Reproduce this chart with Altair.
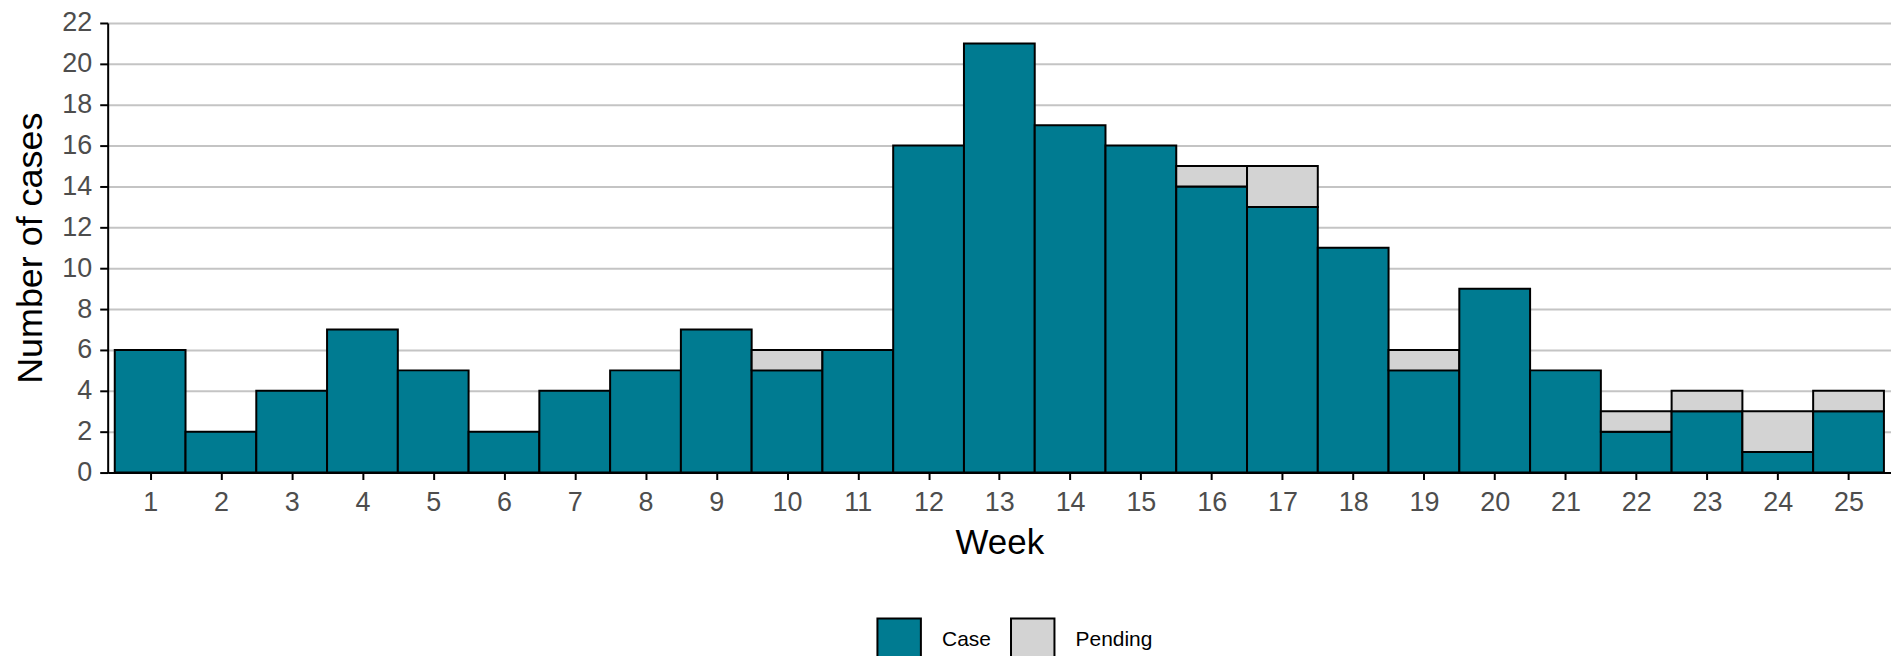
import altair as alt
import pandas as pd

weeks = list(range(1, 26))
case_counts = [6, 2, 4, 7, 5, 2, 4, 5, 7, 5, 6, 16, 21, 17, 16, 14, 13, 11, 5, 9, 5, 2, 3, 1, 3]
pending_counts = [0, 0, 0, 0, 0, 0, 0, 0, 0, 1, 0, 0, 0, 0, 0, 1, 2, 0, 1, 0, 0, 1, 1, 2, 1]
statuses = ["Case", "Pending"]
colors = ["#007B91", "#D3D3D3"]
y_ticks = list(range(0, 23, 2))

rows = []
for w, c, p in zip(weeks, case_counts, pending_counts):
    rows.append({"week": w, "status": "Case", "y0": 0, "y1": c})
    if p > 0:
        rows.append({"week": w, "status": "Pending", "y0": c, "y1": c + p})
df = pd.DataFrame(rows)

FONT = "Liberation Sans"

bars = (
    alt.Chart(df)
    .transform_calculate(xa="datum.week - 0.5", xb="datum.week + 0.5")
    .mark_bar(stroke="black", strokeWidth=2, opacity=1)
    .encode(
        x=alt.X(
            "xa:Q",
            scale=alt.Scale(domain=[0.4, 25.6], nice=False, zero=False),
            axis=alt.Axis(
                values=weeks,
                title="Week",
                grid=False,
                domainColor="black",
                domainWidth=2,
                tickColor="black",
                tickWidth=2,
                tickSize=7,
                labelFontSize=27,
                labelColor="#4D4D4D",
                labelPadding=10,
                labelFont=FONT,
                titleFont=FONT,
                titleFontSize=35,
                titleFontWeight="normal",
                titleColor="black",
                titlePadding=10,
            ),
        ),
        x2="xb:Q",
        y=alt.Y(
            "y0:Q",
            scale=alt.Scale(domain=[0, 22], nice=False),
            axis=alt.Axis(
                values=y_ticks,
                title="Number of cases",
                grid=True,
                gridColor="#C4C4C4",
                gridWidth=2,
                domainColor="black",
                domainWidth=2,
                tickColor="black",
                tickWidth=2,
                tickSize=8,
                labelFontSize=27,
                labelColor="#4D4D4D",
                labelPadding=8,
                labelFont=FONT,
                titleFont=FONT,
                titleFontSize=36,
                titleFontWeight="normal",
                titleColor="black",
                titlePadding=12,
            ),
        ),
        y2="y1:Q",
        fill=alt.Fill(
            "status:N",
            scale=alt.Scale(domain=statuses, range=colors),
            legend=alt.Legend(
                title=None,
                orient="none",
                legendX=771,
                legendY=596,
                direction="horizontal",
                symbolType="square",
                symbolSize=1900,
                symbolStrokeColor="black",
                symbolStrokeWidth=2,
                symbolOpacity=1,
                labelFont=FONT,
                labelFontSize=21,
                labelColor="black",
                labelOffset=20,
                columnPadding=15,
            ),
        ),
    )
)

chart = (
    bars.properties(
        width=1789,
        height=451,
        autosize=alt.AutoSizeParams(type="none"),
        padding={"left": 100, "top": 14, "right": 0, "bottom": 183},
    )
    .configure_view(stroke=None)
    .configure(background="white")
)

chart.save("out.html", embed_options={"renderer": "svg", "actions": False})
